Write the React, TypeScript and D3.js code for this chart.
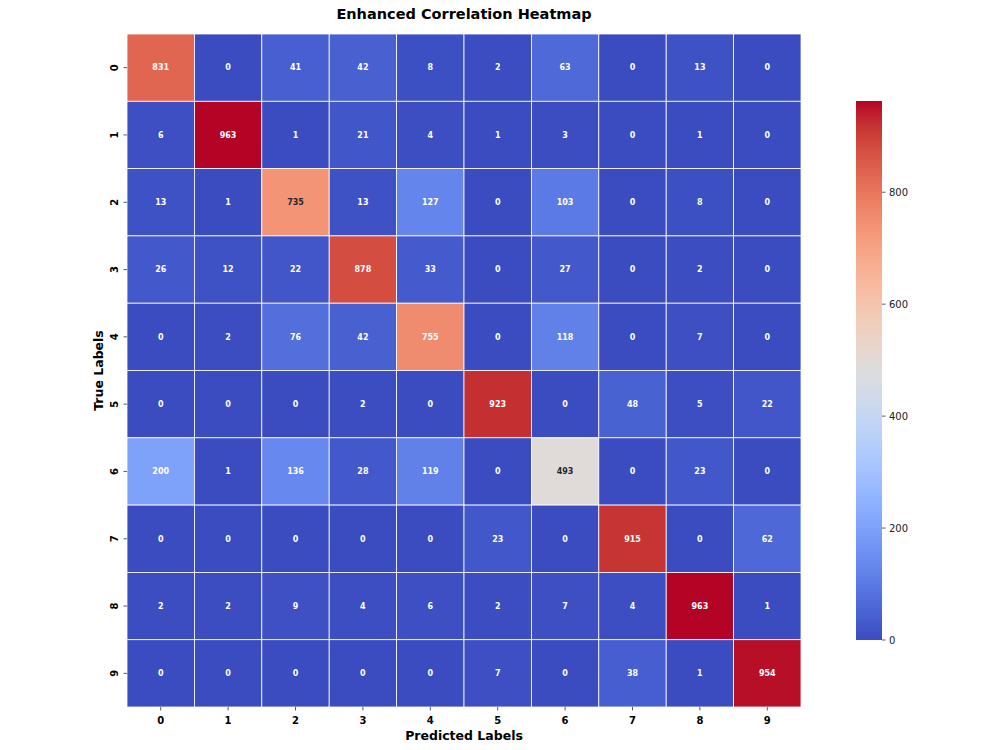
import * as d3 from "d3";

const labels = ["0", "1", "2", "3", "4", "5", "6", "7", "8", "9"];

const matrix: number[][] = [
  [831, 0, 41, 42, 8, 2, 63, 0, 13, 0],
  [6, 963, 1, 21, 4, 1, 3, 0, 1, 0],
  [13, 1, 735, 13, 127, 0, 103, 0, 8, 0],
  [26, 12, 22, 878, 33, 0, 27, 0, 2, 0],
  [0, 2, 76, 42, 755, 0, 118, 0, 7, 0],
  [0, 0, 0, 2, 0, 923, 0, 48, 5, 22],
  [200, 1, 136, 28, 119, 0, 493, 0, 23, 0],
  [0, 0, 0, 0, 0, 23, 0, 915, 0, 62],
  [2, 2, 9, 4, 6, 2, 7, 4, 963, 1],
  [0, 0, 0, 0, 0, 7, 0, 38, 1, 954],
];

const colorbarTicks = [0, 200, 400, 600, 800];

// Moreland diverging table (matplotlib "coolwarm")
const coolwarmStops = [
  "#3b4cc0", "#445acc", "#4d68d7", "#5775e1", "#6282ea", "#6c8ef1",
  "#779af7", "#82a5fb", "#8db0fe", "#98b9ff", "#a3c2ff", "#aec9fd",
  "#b8d0f9", "#c2d5f4", "#ccd9ee", "#d5dbe6", "#dddddd", "#e5d8d1",
  "#ecd3c5", "#f1ccb9", "#f5c4ad", "#f7bba0", "#f7b194", "#f7a687",
  "#f49a7b", "#f18d6f", "#ec7f63", "#e57058", "#de604d", "#d55042",
  "#cb3e38", "#c0282f", "#b40426",
];

const title = "Enhanced Correlation Heatmap";
const xTitle = "Predicted Labels";
const yTitle = "True Labels";

const W = 1000;
const H = 750;
const heat = { left: 127, top: 34, right: 801, bottom: 707 };
const bar = { left: 856, right: 882, top: 101, bottom: 640 };

const vmax = d3.max(matrix.flat()) as number;
const interp = d3.interpolateRgbBasis(coolwarmStops);
const color = (v: number) => interp(v / vmax);

// seaborn picks annotation color by relative luminance
const textColor = (fill: string) => {
  const c = d3.rgb(fill);
  const lin = (u: number) => {
    const s = u / 255;
    return s <= 0.03928 ? s / 12.92 : Math.pow((s + 0.055) / 1.055, 2.4);
  };
  const lum = 0.2126 * lin(c.r) + 0.7152 * lin(c.g) + 0.0722 * lin(c.b);
  return lum > 0.408 ? "#262626" : "#ffffff";
};

export default function App() {
  const x = d3.scaleBand().domain(labels).range([heat.left, heat.right]);
  const y = d3.scaleBand().domain(labels).range([heat.top, heat.bottom]);
  const cbY = d3.scaleLinear().domain([0, vmax]).range([bar.bottom, bar.top]);

  const font = "'DejaVu Sans', sans-serif";
  const gradSteps = d3.range(0, 101).map((i) => i / 100);

  return (
    <svg
      width={W}
      height={H}
      style={{ position: "absolute", left: 0, top: 0, background: "#fff" }}
      fontFamily={font}
    >
      <defs>
        <linearGradient id="cbgrad" x1="0" y1="1" x2="0" y2="0">
          {gradSteps.map((t) => (
            <stop key={t} offset={t} stopColor={interp(t)} />
          ))}
        </linearGradient>
      </defs>

      <text
        x={(heat.left + heat.right) / 2}
        y={19}
        textAnchor="middle"
        fontSize={14.5}
        fontWeight="bold"
        fill="#000"
      >
        {title}
      </text>

      {matrix.map((row, r) =>
        row.map((v, c) => {
          const fill = color(v);
          const cx = x(labels[c]) as number;
          const cy = y(labels[r]) as number;
          return (
            <g key={`${r}-${c}`}>
              <rect
                x={cx}
                y={cy}
                width={x.bandwidth()}
                height={y.bandwidth()}
                fill={fill}
                stroke="#fff"
                strokeWidth={0.8}
              />
              <text
                x={cx + x.bandwidth() / 2}
                y={cy + y.bandwidth() / 2}
                dy="0.35em"
                textAnchor="middle"
                fontSize={8}
                fontWeight="bold"
                fill={textColor(fill)}
              >
                {v}
              </text>
            </g>
          );
        })
      )}

      {/* x axis */}
      {labels.map((l) => {
        const px = (x(l) as number) + x.bandwidth() / 2;
        return (
          <g key={"x" + l}>
            <line x1={px} x2={px} y1={heat.bottom} y2={heat.bottom + 3.5} stroke="#333" strokeWidth={0.8} />
            <text x={px} y={heat.bottom + 17} textAnchor="middle" fontSize={10} fontWeight="bold" fill="#000">
              {l}
            </text>
          </g>
        );
      })}
      <text
        x={(heat.left + heat.right) / 2}
        y={740}
        textAnchor="middle"
        fontSize={12.5}
        fontWeight="bold"
        fill="#000"
      >
        {xTitle}
      </text>

      {/* y axis */}
      {labels.map((l) => {
        const py = (y(l) as number) + y.bandwidth() / 2;
        return (
          <g key={"y" + l}>
            <line x1={heat.left - 3.5} x2={heat.left} y1={py} y2={py} stroke="#333" strokeWidth={0.8} />
            <text
              transform={`translate(${heat.left - 9}, ${py}) rotate(-90)`}
              textAnchor="middle"
              fontSize={10}
              fontWeight="bold"
              fill="#000"
            >
              {l}
            </text>
          </g>
        );
      })}
      <text
        transform={`translate(103, ${(heat.top + heat.bottom) / 2}) rotate(-90)`}
        textAnchor="middle"
        fontSize={12.5}
        fontWeight="bold"
        fill="#000"
      >
        {yTitle}
      </text>

      {/* colorbar */}
      <rect
        x={bar.left}
        y={bar.top}
        width={bar.right - bar.left}
        height={bar.bottom - bar.top}
        fill="url(#cbgrad)"
      />
      {colorbarTicks.map((t) => (
        <g key={"cb" + t}>
          <line x1={bar.right} x2={bar.right + 3.5} y1={cbY(t)} y2={cbY(t)} stroke="#333" strokeWidth={0.8} />
          <text x={bar.right + 7} y={cbY(t)} dy="0.35em" fontSize={10} fill="#222">
            {t}
          </text>
        </g>
      ))}
    </svg>
  );
}
